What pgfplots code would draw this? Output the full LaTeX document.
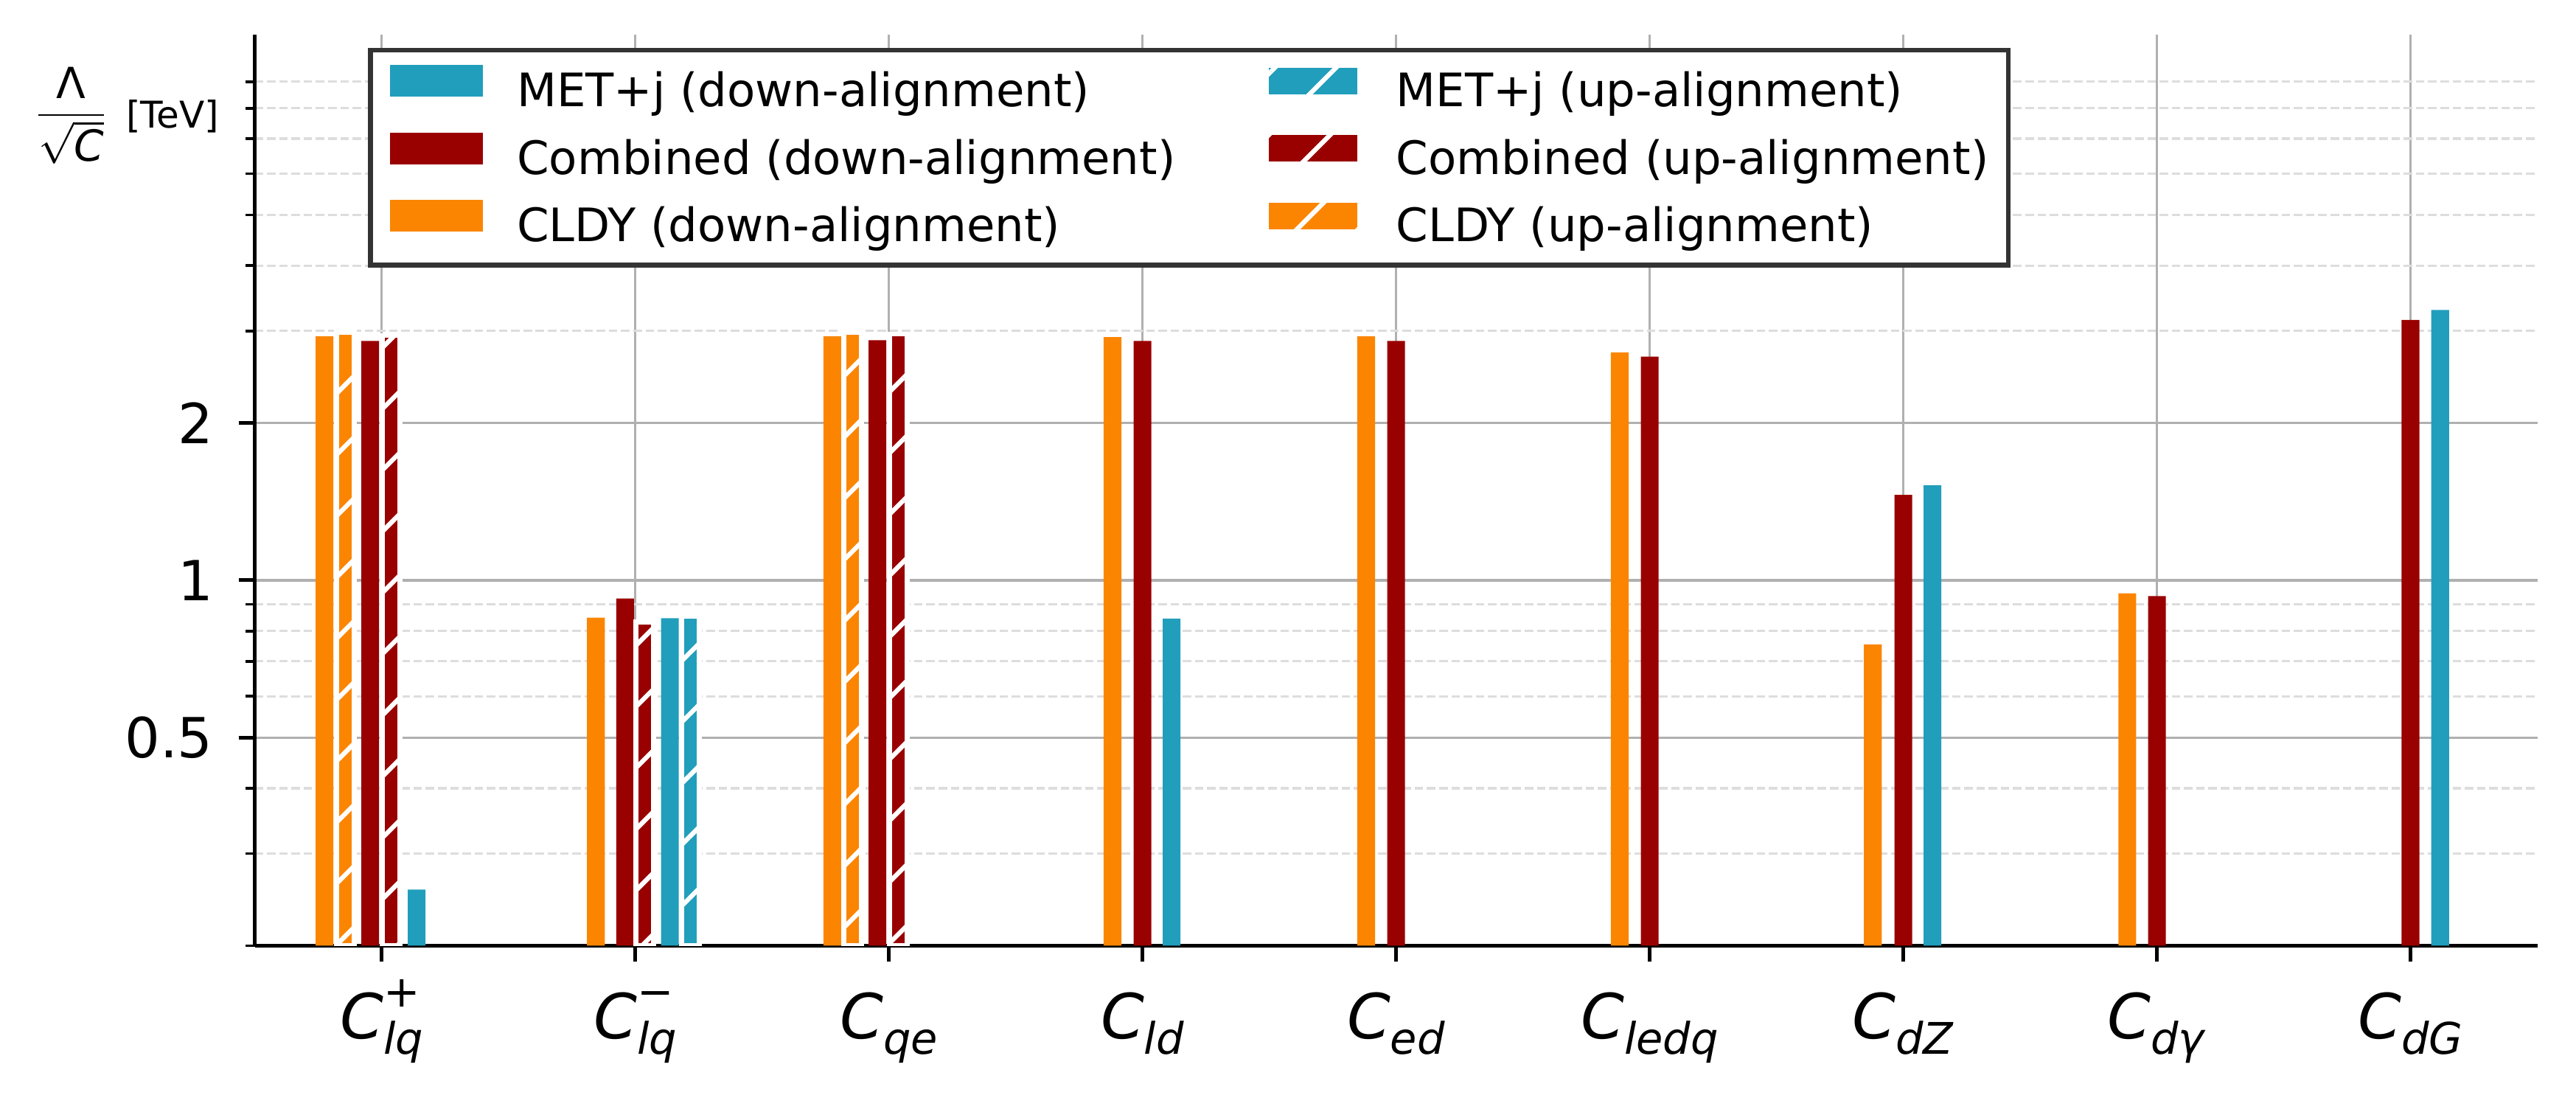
\documentclass[border=0pt]{standalone}
\usepackage{fontspec}
\setmainfont{DejaVu Sans}
\usepackage{amsmath}
\usepackage{pgfplots}
\pgfplotsset{compat=1.18}
\usetikzlibrary{patterns.meta}
\definecolor{cblue}{HTML}{219EBC}
\definecolor{cred}{HTML}{990000}
\definecolor{corange}{HTML}{FB8500}
\definecolor{gridmaj}{HTML}{B0B0B0}
\definecolor{gridmin}{HTML}{DDDDDD}
\definecolor{legframe}{HTML}{333333}
\newcommand{\subfs}{\fontsize{9.45}{10}\selectfont}
\newcommand{\Cop}[2]{\textit{C}\makebox[0pt][l]{\raisebox{0.5em}{\subfs #2}}\raisebox{-0.25em}{\subfs\textit{#1}}}
\newcommand{\Cs}[1]{\textit{C}\raisebox{-0.25em}{\subfs\textit{#1}}}
\tikzset{hatchw/.style={postaction={pattern={Lines[angle=45,distance=9.4pt,line width=1pt]},pattern color=white}}}
\begin{document}
\begin{tikzpicture}
\begin{axis}[
  width=495.4pt, height=197.6pt, scale only axis,
  xmin=-0.5, xmax=8.5, ymin=0.2, ymax=11.05,
  ymode=log, log origin y=infty,
  axis lines=left, axis line style={-, line width=0.8pt, black},
  xtick={0,1,2,3,4,5,6,7,8},
  xticklabels={{\Cop{lq}{+}},{\Cop{lq}{−}},{\Cs{qe}},{\Cs{ld}},{\Cs{ed}},{\Cs{ledq}},{\Cs{dZ}},{\Cs{dγ}},{\Cs{dG}}},
  ytick={0.5,1,2}, yticklabels={0.5,1,2},
  minor ytick={0.2,0.3,0.4,0.6,0.7,0.8,0.9,3,4,5,6,7,8,9},
  tick align=outside, major tick length=3.5pt, minor tick length=2pt,
  every major tick/.style={black, line width=0.8pt},
  every minor tick/.style={black, line width=0.6pt},
  ymajorgrids, yminorgrids, xmajorgrids,
  major grid style={gridmaj, line width=0.5pt, solid},
  minor grid style={gridmin, line width=0.5pt, dash pattern=on 1.85pt off 0.8pt},
  /pgf/number format/assume math mode=true,
  yticklabel style={font=\fontsize{12}{14}\selectfont, anchor=east, inner sep=0pt, xshift=-5.4pt},
  xticklabel style={font=\fontsize{13.5}{16}\selectfont, anchor=base, inner sep=0pt, yshift=-16.6pt},
  legend columns=2,
  legend cell align=left,
  legend image code/.code={\path[#1,draw=none] (0pt,-0.1pt) rectangle (20.2pt,6.8pt);},
  legend style={at={(0.0497,0.986)}, anchor=north west, draw=legframe, line width=1pt,
    fill=white, font=\fontsize{10}{12}\selectfont, inner xsep=4.2pt, inner ysep=2.7pt,
    row sep=2.7pt,
    nodes={inner sep=0pt, text height=6.8pt, text depth=2.4pt},
    /tikz/every odd column/.append style={column sep=7.4pt},
    /tikz/every even column/.append style={column sep=19.2pt}},
]
% MET+j down
\addplot[ybar, bar width=0.07, bar shift=0pt, fill=cblue, draw=none]
  coordinates {(0.138,0.256) (1.137,0.846) (3.115,0.845) (6.115,1.52) (8.117,3.29)};
\addlegendentry{MET+j (down-alignment)}
% MET+j up
\addplot[ybar, bar width=0.07, bar shift=0pt, fill=cblue, draw=white, line width=1.1pt, hatchw]
  coordinates {(1.218,0.854)};
\addlegendentry{MET+j (up-alignment)}
% Combined down
\addplot[ybar, bar width=0.07, bar shift=0pt, fill=cred, draw=none]
  coordinates {(-0.045,2.87) (0.96,0.923) (1.955,2.88) (3.0,2.87) (4.0,2.87) (5.0,2.68) (6.0,1.457) (7.0,0.933) (8.0,3.15)};
\addlegendentry{Combined (down-alignment)}
% Combined up
\addplot[ybar, bar width=0.07, bar shift=0pt, fill=cred, draw=white, line width=1.1pt, hatchw]
  coordinates {(0.038,2.94) (1.038,0.832) (2.038,2.96)};
\addlegendentry{Combined (up-alignment)}
% CLDY down
\addplot[ybar, bar width=0.07, bar shift=0pt, fill=corange, draw=none]
  coordinates {(-0.225,2.93) (0.845,0.848) (1.777,2.93) (2.882,2.92) (3.882,2.93) (4.882,2.73) (5.88,0.754) (6.883,0.944)};
\addlegendentry{CLDY (down-alignment)}
% CLDY up
\addplot[ybar, bar width=0.07, bar shift=0pt, fill=corange, draw=white, line width=1.1pt, hatchw]
  coordinates {(-0.142,2.98) (1.858,2.98)};
\addlegendentry{CLDY (up-alignment)}
\coordinate (SW) at (rel axis cs:0,0);
\coordinate (NE) at (rel axis cs:1,1);
\coordinate (NW) at (rel axis cs:0,1);
\end{axis}
\node[inner sep=0pt] at ([shift={(-39.8pt,-17.5pt)}]NW) {\fontsize{9.3}{10}\selectfont$\displaystyle\frac{\text{Λ}}{\sqrt{\text{\itshape C}}}$};
\node[inner sep=0pt] at ([shift={(-17.8pt,-17.7pt)}]NW) {\fontsize{8}{9}\selectfont [TeV]};
\pgfresetboundingbox
\path[use as bounding box] ([shift={(-55.3pt,-33.0pt)}]SW) rectangle ([shift={(8.4pt,7.6pt)}]NE);
\end{tikzpicture}
\end{document}
